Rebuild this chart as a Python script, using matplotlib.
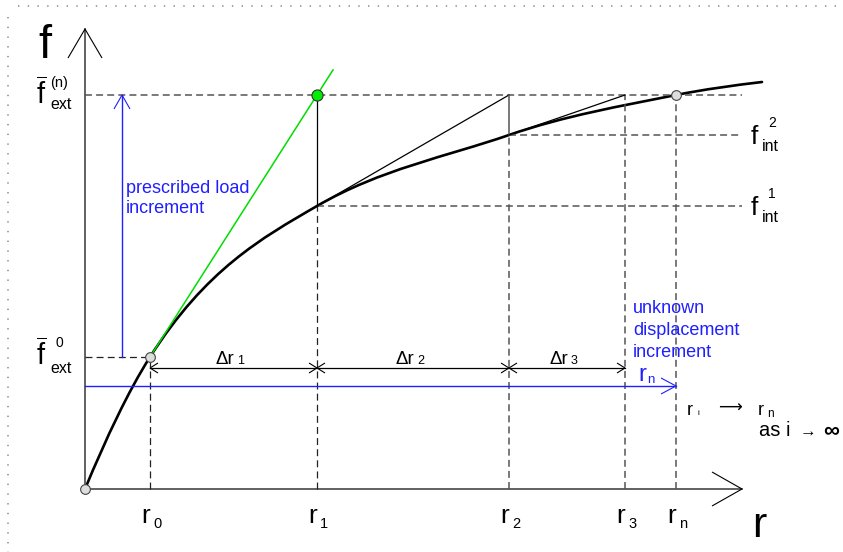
import matplotlib.pyplot as plt
from matplotlib.path import Path
from matplotlib.patches import PathPatch

plt.rcParams['font.family'] = ['Liberation Sans', 'DejaVu Sans']
plt.rcParams['mathtext.fontset'] = 'custom'
plt.rcParams['mathtext.rm'] = 'Liberation Sans'
plt.rcParams['lines.scale_dashes'] = False

# diagram units (1 unit ~ 1 pixel), origin at the corner of the r/f axes
r_names = ['0', '1', '2', '3', 'n']
r_values = [65, 232, 424, 540, 591]
f_ext0 = 132
f_extn = 394
f_int = [283, 354]
# points on the load-displacement curve and its slope there
curve_r = [0, 65, 232, 424, 591, 677]
curve_f = [0, 132, 283, 354, 394, 407]
curve_slope = [2.4, 1.57, 0.578, 0.345, 0.2, 0.12]
tangent_end_r = 248
axis_len_r = 657
axis_len_f = 460

grey = '#555555'
blue = '#1f1fff'
green = '#00dd00'
dash = (0, (5, 3))

fig = plt.figure(figsize=(8.43, 5.52), dpi=100)
ax = fig.add_axes([0, 0, 1, 1])
ax.set_xlim(-85, 758)
ax.set_ylim(-63, 489)
ax.axis('off')


def chevron(x, y, dx, dy, length, half, color='black', lw=0.8):
    px, py = -dy, dx
    bx, by = x - dx * length, y - dy * length
    ax.plot([bx + px * half, x, bx - px * half], [by + py * half, y, by - py * half],
            color=color, lw=lw, solid_joinstyle='miter', solid_capstyle='butt')


# dotted frame
ax.plot([-67, 758], [483, 483], color='#888888', lw=1.1, ls=(0, (1, 6)))
ax.plot([-77, -77], [472, -63], color='#888888', lw=1.1, ls=(0, (1, 6)))

# axes
ax.plot([0, axis_len_r], [0, 0], color=grey, lw=1.3)
ax.plot([0, 0], [0, axis_len_f], color=grey, lw=1.3)
chevron(axis_len_r, 0, 1, 0, 30, 17)
chevron(0, axis_len_f, 0, 1, 29, 17)

r0, r1, r2, r3, rn = r_values
f_int1, f_int2 = f_int

# guide lines
ax.plot([0, axis_len_r], [f_extn, f_extn], color=grey, lw=1.1, ls=dash)
ax.plot([r1, axis_len_r], [f_int1, f_int1], color=grey, lw=1.1, ls=dash)
ax.plot([r2, axis_len_r], [f_int2, f_int2], color=grey, lw=1.1, ls=dash)
ax.plot([0, r0], [f_ext0, f_ext0], color='#222222', lw=0.9, ls=dash)
ax.plot([r0, r0], [0, f_ext0], color='#222222', lw=0.9, ls=dash)
ax.plot([r1, r1], [0, f_int1], color='#222222', lw=0.9, ls=dash)
for rv, top in [(r2, f_int2), (r3, f_extn), (rn, f_extn)]:
    ax.plot([rv, rv], [0, top], color=grey, lw=1.1, ls=dash)

# iteration steps
ax.plot([r1, r1], [f_int1, f_extn], color='black', lw=0.9)
ax.plot([r1, r2], [f_int1, f_extn], color='black', lw=0.9)
ax.plot([r2, r2], [f_int2, f_extn], color=grey, lw=1.1)
ax.plot([r2, r3], [f_int2, f_extn], color='black', lw=0.9)

# response curve: cubic pieces through the read points with the read slopes
verts = [(curve_r[0], curve_f[0])]
codes = [Path.MOVETO]
for i in range(len(curve_r) - 1):
    h = (curve_r[i + 1] - curve_r[i]) / 3
    verts += [(curve_r[i] + h, curve_f[i] + h * curve_slope[i]),
              (curve_r[i + 1] - h, curve_f[i + 1] - h * curve_slope[i + 1]),
              (curve_r[i + 1], curve_f[i + 1])]
    codes += [Path.CURVE4] * 3
ax.add_patch(PathPatch(Path(verts, codes), fill=False, edgecolor='black', lw=1.9, capstyle='round'))

slope = (f_extn - f_ext0) / (r1 - r0)
ax.plot([r0, tangent_end_r], [f_ext0, f_ext0 + slope * (tangent_end_r - r0)], color=green, lw=1.1)

ax.plot([0, r0, rn], [0, f_ext0, f_extn], ls='none', marker='o', ms=7,
        mfc='#dddddd', mec='#444444', mew=0.8)
ax.plot([r1], [f_extn], ls='none', marker='o', ms=8, mfc='#00ee00', mec='#333333', mew=0.8)

# increments
dim_y = 121
ax.plot([r0, r3], [dim_y, dim_y], color='black', lw=0.9)
chevron(r0, dim_y, -1, 0, 8, 5)
for rv in [r1, r2]:
    chevron(rv, dim_y, 1, 0, 8, 5)
    chevron(rv, dim_y, -1, 0, 8, 5)
chevron(r3, dim_y, 1, 0, 8, 5)
for i, (a, b) in enumerate(zip(r_values[:3], r_values[1:4])):
    mid = (a + b) / 2
    ax.text(mid + 1, dim_y + 4, '\u0394r', fontsize=13.5, ha='right', va='baseline')
    ax.text(mid + 4, dim_y + 4, str(i + 1), fontsize=9, ha='left', va='baseline')

blue_y = 103
ax.plot([0, rn], [blue_y, blue_y], color=blue, lw=1)
chevron(rn, blue_y, 1, 0, 15, 8, color=blue)
load_r = 37
ax.plot([load_r, load_r], [f_ext0, f_extn], color=blue, lw=1)
chevron(load_r, f_extn, 0, 1, 14, 8, color=blue)

# labels
ax.text(-47, 431, 'f', fontsize=34, ha='left', va='baseline')
ax.text(667, -48, 'r', fontsize=31, ha='left', va='baseline')

ax.text(-49, f_extn - 9, r'$\overline{\mathrm{f}}$', fontsize=21, ha='left', va='baseline')
ax.text(-35, f_extn + 8, '(n)', fontsize=10.5, ha='left', va='baseline')
ax.text(-35, f_extn - 14, 'ext', fontsize=11.5, ha='left', va='baseline')
ax.text(-49, f_ext0 - 8, r'$\overline{\mathrm{f}}$', fontsize=21, ha='left', va='baseline')
ax.text(-30, f_ext0 + 10, '0', fontsize=10, ha='left', va='baseline')
ax.text(-35, f_ext0 - 16, 'ext', fontsize=11.5, ha='left', va='baseline')

for k, fv in enumerate(f_int):
    ax.text(666, fv - 9, 'f', fontsize=19, ha='left', va='baseline')
    ax.text(677, fv - 16, 'int', fontsize=11.5, ha='left', va='baseline')
    ax.text(683, fv + 8, str(k + 1), fontsize=10, ha='left', va='baseline')

for name, rv in zip(r_names, r_values):
    ax.text(rv, -34, 'r', fontsize=19, ha='right', va='baseline')
    ax.text(rv + 3, -39, name, fontsize=10.5, ha='left', va='baseline')

ax.text(553, 108, 'r', fontsize=17, color=blue, ha='left', va='baseline')
ax.text(562, 106, 'n', fontsize=9.5, color=blue, ha='left', va='baseline')

ax.text(41, 296, 'prescribed load', fontsize=13, color=blue, ha='left', va='baseline')
ax.text(41, 276, 'increment', fontsize=13, color=blue, ha='left', va='baseline')
for line, yb in zip(['unknown', 'displacement', 'increment'], [176, 154, 132]):
    ax.text(548, yb, line, fontsize=13, color=blue, ha='left', va='baseline')

ax.text(602, 74, 'r', fontsize=13, ha='left', va='baseline')
ax.text(612, 74, 'i', fontsize=6, ha='left', va='baseline')
ax.text(633, 81, '\u27f6', fontsize=12, ha='left', va='center')
ax.text(673, 74, 'r', fontsize=13, ha='left', va='baseline')
ax.text(682, 72, 'n', fontsize=8.5, ha='left', va='baseline')
ax.text(674, 53, 'as i', fontsize=14.5, ha='left', va='baseline')
ax.text(715, 57, '\u2192', fontsize=12, ha='left', va='center')
ax.text(738, 53, '\u221e', fontsize=16, fontweight='bold', ha='left', va='baseline')

fig.savefig('out.png', dpi=100)
